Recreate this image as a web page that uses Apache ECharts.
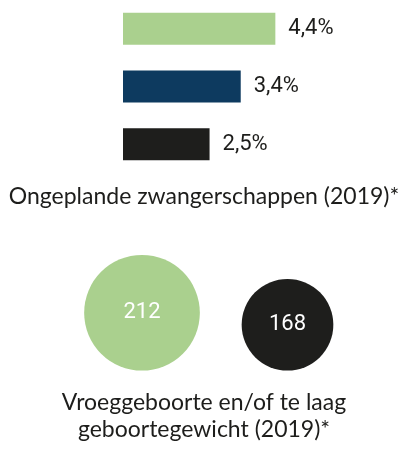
<!DOCTYPE html>
<html><head><meta charset="utf-8">
<script src="https://cdn.jsdelivr.net/npm/echarts@6/dist/echarts.min.js"></script>
<style>html,body{margin:0;padding:0;background:#fff}#c{width:408px;height:452px}</style>
</head><body><div id="c"></div>
<script>
// Bar chart data
const barCategories = ['A', 'B', 'C'];
const barValues = [4.4, 3.4, 2.5];
const barColors = ['#aad08e', '#0d3a5f', '#1e1e1c'];
const barTitle = 'Ongeplande zwangerschappen (2019)*';
// Bubble data
const bubbleCategories = ['X', 'Y'];
const bubbleValues = [212, 168];
const bubbleColors = ['#aad08e', '#1e1e1c'];
const bubbleTitle = 'Vroeggeboorte en/of te laag\ngeboortegewicht (2019)*';

const textColor = '#1d1d1b';
const titleFont = 'Lato, "Open Sans", sans-serif';
const numFont = 'Roboto, sans-serif';
const pxPerUnit = 0.5457;

const chart = echarts.init(document.getElementById('c'), null, {renderer: 'canvas'});
chart.setOption({
  animation: false,
  title: [
    {text: barTitle, left: 'center', top: 180,
     textStyle: {fontFamily: titleFont, fontSize: 23, fontWeight: 'normal', color: textColor}},
    {text: bubbleTitle, left: 'center', top: 384,
     textStyle: {fontFamily: titleFont, fontSize: 23, fontWeight: 'normal', color: textColor, lineHeight: 27}}
  ],
  grid: [
    {left: 123, top: -5.5, width: 277, height: 178.5, containLabel: false},
    {left: 142, top: 261.5, width: 145.5, height: 109.1, containLabel: false}
  ],
  xAxis: [
    {gridIndex: 0, type: 'value', min: 0, max: 8, show: false},
    {gridIndex: 1, type: 'category', data: bubbleCategories, boundaryGap: false, show: false}
  ],
  yAxis: [
    {gridIndex: 0, type: 'category', data: barCategories, inverse: true, show: false},
    {gridIndex: 1, type: 'value', min: 0, max: 200, show: false}
  ],
  series: [
    {type: 'bar', xAxisIndex: 0, yAxisIndex: 0, barWidth: 32,
     data: barValues.map((v, i) => ({value: v, itemStyle: {color: barColors[i]}})),
     label: {show: true, position: 'right', distance: 13,
       formatter: p => p.value.toFixed(1).replace('.', ',') + '%',
       fontFamily: numFont, fontSize: 22, color: textColor}},
    {type: 'scatter', xAxisIndex: 1, yAxisIndex: 1,
     data: bubbleValues.map((v, i) => ({value: [bubbleCategories[i], v / 2], itemStyle: {color: bubbleColors[i], opacity: 1}})),
     symbolSize: (val, p) => bubbleValues[p.dataIndex] * pxPerUnit,
     label: {show: true, position: 'inside', formatter: p => String(bubbleValues[p.dataIndex]),
       fontFamily: numFont, fontSize: 22, color: '#ffffff'},
     emphasis: {disabled: true}}
  ]
});
</script></body></html>
